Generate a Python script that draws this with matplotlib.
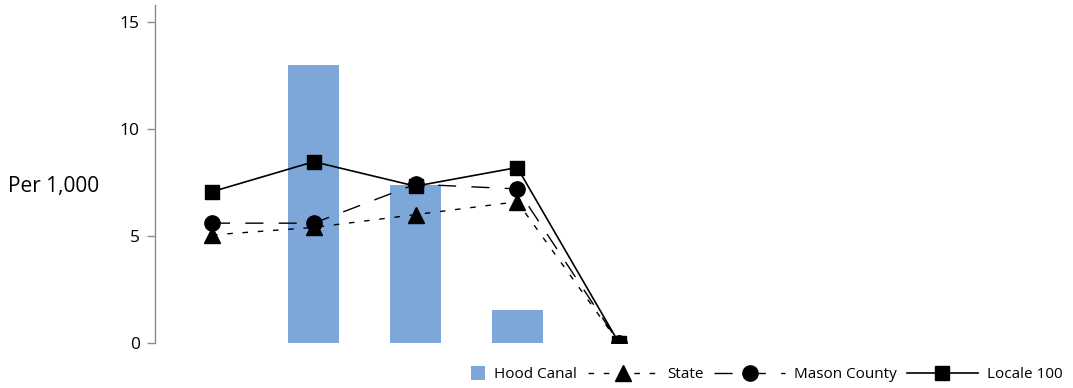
import matplotlib
matplotlib.use("Agg")
import matplotlib.pyplot as plt
from matplotlib.patches import Rectangle
from matplotlib.container import BarContainer
from matplotlib.legend_handler import HandlerPatch, update_from_first_child

plt.rcParams['font.family'] = ['Open Sans', 'DejaVu Sans']

x_pos = [0, 1, 2, 3, 4]
hood_canal = [0, 13.0, 7.4, 1.55, 0]
state = [5.05, 5.4, 6.0, 6.6, 0]
mason = [5.6, 5.6, 7.42, 7.2, 0]
locale = [7.07, 8.47, 7.33, 8.2, 0]
yticks = [0, 5, 10, 15]

W, H = 1073, 388
fig = plt.figure(figsize=(W / 100, H / 100), dpi=100)
ax_l, ax_r, ax_b, ax_t = 155, 1060, 343, 5
ax = fig.add_axes([ax_l / W, (H - ax_b) / H, (ax_r - ax_l) / W, (ax_b - ax_t) / H])

bar_color = '#7da7d9'
bars = ax.bar(x_pos, hood_canal, width=0.5, color=bar_color, label='Hood Canal', zorder=1)
l_state, = ax.plot(x_pos, state, color='black', lw=1.0, ls=(0, (4, 7)), marker='^', ms=11,
                   label='State', zorder=3)
l_mason, = ax.plot(x_pos, mason, color='black', lw=1.0, ls=(0, (13, 11)), marker='o', ms=11,
                   label='Mason County', zorder=3)
l_locale, = ax.plot(x_pos, locale, color='black', lw=1.2, ls='-', marker='s', ms=10,
                    label='Locale 100', zorder=4)

ymax = (ax_b - ax_t) / ((343 - 22) / 15.0)
ax.set_ylim(0, ymax)
sp = (619 - 212) / 4.0
ax.set_xlim((ax_l - 212) / sp, (ax_r - 212) / sp)

for s in ['top', 'right', 'bottom']:
    ax.spines[s].set_visible(False)
ax.spines['left'].set_color('#8c8c8c')
ax.spines['left'].set_linewidth(1.0)
ax.set_yticks(yticks)
ax.set_yticklabels([str(t) for t in yticks])
ax.tick_params(axis='y', colors='#8c8c8c', labelcolor='black', length=6, width=1.0,
               labelsize=12.5, pad=5)
ax.set_xticks([])

fig.text(8 / W, (H - 187) / H, 'Per 1,000', fontsize=15, ha='left', va='center')


def square_patch(legend, orig_handle, xdescent, ydescent, width, height, fontsize):
    s = height * 1.3
    return Rectangle((-xdescent + width - s, -ydescent + (height - s) / 2), s, s)


handles = [bars, l_state, l_mason, l_locale]
labels = [h.get_label() for h in handles]
leg = ax.legend(handles, labels, loc='center right',
                bbox_to_anchor=(1070 / W, (H - 375) / H),
                bbox_transform=fig.transFigure, ncol=4, frameon=False, fontsize=11,
                handlelength=4.6, handletextpad=0.6, columnspacing=0.7, borderpad=0,
                handler_map={BarContainer: HandlerPatch(patch_func=square_patch,
                                                        update_func=update_from_first_child)})

fig.savefig('out.png', dpi=100)
